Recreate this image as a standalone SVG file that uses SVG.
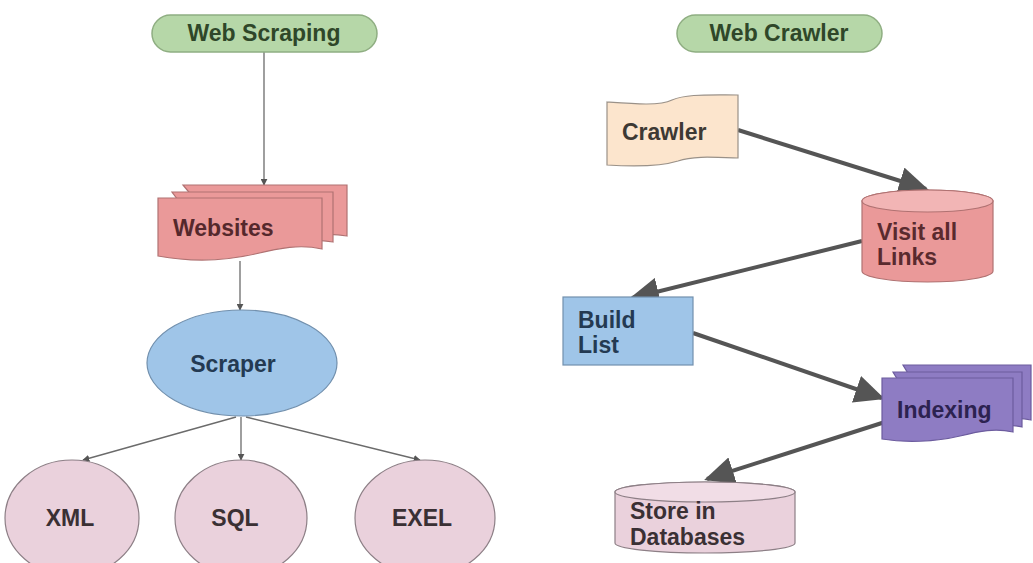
<svg xmlns="http://www.w3.org/2000/svg" width="1033" height="563" viewBox="0 0 1033 563">
  <style>
    .lbl { font-family: "Liberation Sans", Arial, sans-serif; font-size: 23px; font-weight: bold; }
    .pill { fill: #b6d7a8; stroke: #8fae82; stroke-width: 1.5; }
    .pill-t { fill: #2f4729; }
    .doc-red { fill: #ea9999; stroke: #b07272; stroke-width: 1.2; }
    .doc-purple { fill: #8e7cc3; stroke: #6c5c9e; stroke-width: 1.2; }
    .blue { fill: #9fc5e8; stroke: #7290ad; stroke-width: 1.2; }
    .pink { fill: #ead1dc; stroke: #8d7f86; stroke-width: 1.2; }
    .peach { fill: #fce5cd; stroke: #9a9188; stroke-width: 1.2; }
    .thin { fill: none; stroke: #6b6b6b; stroke-width: 1.3; }
    .thick { fill: none; stroke: #555; stroke-width: 4; }
  </style>
  <defs>
    <marker id="ah-small" viewBox="0 0 10 10" refX="9" refY="5" markerWidth="7" markerHeight="7" orient="auto" markerUnits="userSpaceOnUse">
      <path d="M0,0 L10,5 L0,10 Z" fill="#555"/>
    </marker>
    <marker id="ah-big" viewBox="0 0 30 28" refX="27" refY="14" markerWidth="30" markerHeight="28" orient="auto" markerUnits="userSpaceOnUse">
      <path d="M0,0 L30,14 L0,28 Z" fill="#555"/>
    </marker>
  </defs>

  <rect width="1033" height="563" fill="#ffffff"/>

  <!-- connectors -->
  <g id="connectors">
    <line class="thin" x1="264" y1="52" x2="264" y2="185" marker-end="url(#ah-small)"/>
    <line class="thin" x1="240" y1="261" x2="240" y2="310" marker-end="url(#ah-small)"/>
    <line class="thin" x1="236" y1="417" x2="83" y2="460" marker-end="url(#ah-small)"/>
    <line class="thin" x1="241" y1="417" x2="241" y2="460" marker-end="url(#ah-small)"/>
    <line class="thin" x1="246" y1="417" x2="420" y2="460" marker-end="url(#ah-small)"/>
    <line class="thick" x1="738" y1="130" x2="926" y2="189" marker-end="url(#ah-big)"/>
    <line class="thick" x1="862" y1="241" x2="632" y2="298" marker-end="url(#ah-big)"/>
    <line class="thick" x1="693" y1="333" x2="882" y2="398" marker-end="url(#ah-big)"/>
    <line class="thick" x1="885" y1="422" x2="707" y2="479" marker-end="url(#ah-big)"/>
  </g>

  <!-- left flow -->
  <g id="web-scraping">
    <rect class="pill" x="152" y="15" width="225" height="37" rx="18.5"/>
    <text class="lbl pill-t" x="264" y="41" text-anchor="middle">Web Scraping</text>
  </g>

  <g id="websites">
    <path class="doc-red" d="M183,185 H347 V236 C325,232 310,236 290,240 C265,245 245,244 230,242 Z"/>
    <path class="doc-red" d="M172,192 H333 V242 C310,238 295,242 275,247 C250,252 230,251 215,249 Z"/>
    <path class="doc-red" d="M158,198 H322 V249 C300,244 280,248 255,254 C225,261 190,262 158,256 Z"/>
    <text class="lbl" x="173" y="236" fill="#55282c">Websites</text>
  </g>

  <g id="scraper">
    <ellipse class="blue" cx="242" cy="363" rx="95" ry="53"/>
    <text class="lbl" x="233" y="372" text-anchor="middle" fill="#243a52">Scraper</text>
  </g>

  <g id="xml">
    <ellipse class="pink" cx="72" cy="518" rx="67" ry="58"/>
    <text class="lbl" x="70" y="526" text-anchor="middle" fill="#3a3034">XML</text>
  </g>

  <g id="sql">
    <ellipse class="pink" cx="241" cy="518" rx="66" ry="58"/>
    <text class="lbl" x="235" y="526" text-anchor="middle" fill="#3a3034">SQL</text>
  </g>

  <g id="exel">
    <ellipse class="pink" cx="425" cy="518" rx="70" ry="58"/>
    <text class="lbl" x="422" y="526" text-anchor="middle" fill="#3a3034">EXEL</text>
  </g>

  <!-- right flow -->
  <g id="web-crawler">
    <rect class="pill" x="677" y="15" width="205" height="37" rx="18.5"/>
    <text class="lbl pill-t" x="779" y="41" text-anchor="middle">Web Crawler</text>
  </g>

  <g id="crawler">
    <path class="peach" d="M607,102 C635,104 660,106 672,100 C686,94 705,95 738,95 V158 C710,157 692,156 678,161 C662,166 638,167 607,165 Z"/>
    <text class="lbl" x="622" y="140" fill="#3d3934">Crawler</text>
  </g>

  <g id="visit-all-links">
    <path d="M862,201 A65.5,11 0 0 1 993,201 V271 A65.5,11 0 0 1 862,271 Z" fill="#ea9999" stroke="#b07272" stroke-width="1.2"/>
    <ellipse cx="927.5" cy="201" rx="65.5" ry="11" fill="#f2b5b5" stroke="#b07272" stroke-width="1.2"/>
    <text class="lbl" fill="#5a2a2e"><tspan x="877" y="240">Visit all</tspan><tspan x="877" y="265">Links</tspan></text>
  </g>

  <g id="build-list">
    <rect class="blue" x="563" y="297" width="130" height="68"/>
    <text class="lbl" fill="#243a52"><tspan x="578" y="328">Build</tspan><tspan x="578" y="353">List</tspan></text>
  </g>

  <g id="indexing">
    <path class="doc-purple" d="M903,365 H1031 V420 C1015,416 1000,420 985,424 C965,428 950,428 940,426 Z"/>
    <path class="doc-purple" d="M893,372 H1022 V427 C1005,423 990,427 975,431 C955,435 940,435 930,433 Z"/>
    <path class="doc-purple" d="M882,378 H1013 V432 C995,428 980,431 960,436 C935,442 905,443 882,439 Z"/>
    <text class="lbl" x="897" y="418" fill="#2c2250">Indexing</text>
  </g>

  <g id="store-in-databases">
    <path d="M615,492 A90,10 0 0 1 795,492 V543 A90,10 0 0 1 615,543 Z" fill="#ead1dc" stroke="#8d7f86" stroke-width="1.2"/>
    <ellipse cx="705" cy="492" rx="90" ry="10" fill="#f1dde6" stroke="#8d7f86" stroke-width="1.2"/>
    <text class="lbl" fill="#3a3034"><tspan x="630" y="519">Store in</tspan><tspan x="630" y="545">Databases</tspan></text>
  </g>
</svg>
